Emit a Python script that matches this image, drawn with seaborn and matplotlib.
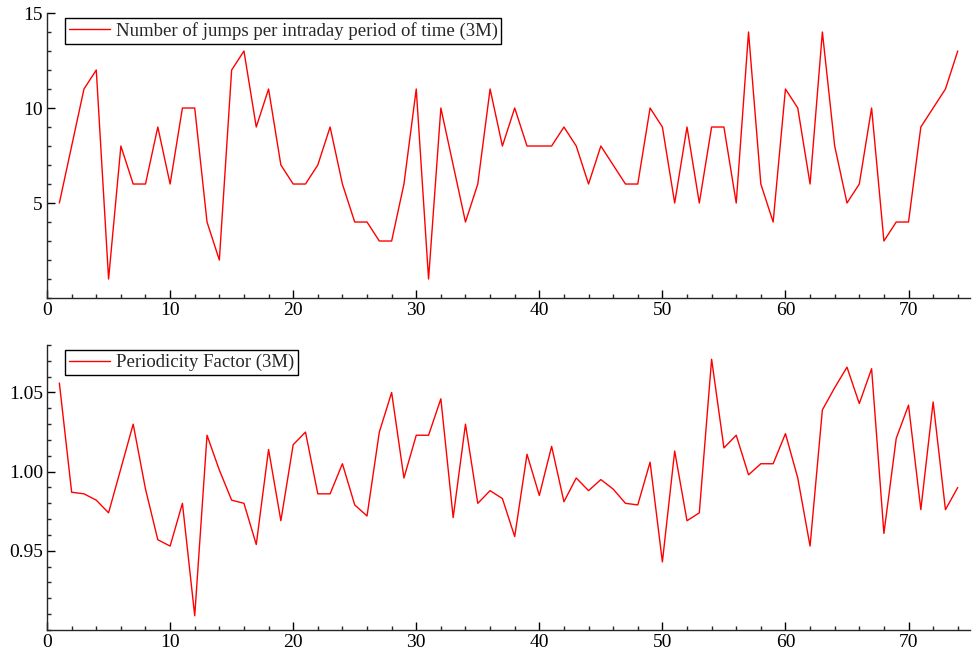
import numpy as np
import pandas as pd
import matplotlib
matplotlib.use("Agg")
import matplotlib.pyplot as plt
import seaborn as sns
from matplotlib.ticker import MultipleLocator

periods = list(range(1, 75))
jumps = [5, 8, 11, 12, 1, 8, 6, 6, 9, 6,
         10, 10, 4, 2, 12, 13, 9, 11, 7, 6,
         6, 7, 9, 6, 4, 4, 3, 3, 6, 11,
         1, 10, 7, 4, 6, 11, 8, 10, 8, 8,
         8, 9, 8, 6, 8, 7, 6, 6, 10, 9,
         5, 9, 5, 9, 9, 5, 14, 6, 4, 11,
         10, 6, 14, 8, 5, 6, 10, 3, 4, 4,
         9, 10, 11, 13]
periodicity = [1.056, 0.987, 0.986, 0.982, 0.974, 1.002, 1.030, 0.989, 0.957, 0.953,
               0.980, 0.909, 1.023, 1.001, 0.982, 0.980, 0.954, 1.014, 0.969, 1.017,
               1.025, 0.986, 0.986, 1.005, 0.979, 0.972, 1.025, 1.050, 0.996, 1.023,
               1.023, 1.046, 0.971, 1.030, 0.980, 0.988, 0.983, 0.959, 1.011, 0.985,
               1.016, 0.981, 0.996, 0.988, 0.995, 0.989, 0.980, 0.979, 1.006, 0.943,
               1.013, 0.969, 0.974, 1.071, 1.015, 1.023, 0.998, 1.005, 1.005, 1.024,
               0.996, 0.953, 1.039, 1.053, 1.066, 1.043, 1.065, 0.961, 1.021, 1.042,
               0.976, 1.044, 0.976, 0.990]

label_top = "Number of jumps per intraday period of time (3M)"
label_bot = "Periodicity Factor (3M)"

df_top = pd.DataFrame({"period": periods, "value": jumps})
df_bot = pd.DataFrame({"period": periods, "value": periodicity})

sns.set_style("ticks")
plt.rcParams["font.family"] = ["Liberation Serif", "DejaVu Serif"]

fig = plt.figure(figsize=(9.72, 6.54), dpi=100)
ax1 = fig.add_axes([0.0484, 0.5443, 0.9496, 0.4358])
ax2 = fig.add_axes([0.0484, 0.0367, 0.9496, 0.4358])

sns.lineplot(data=df_top, x="period", y="value", ax=ax1, color="#ff0000",
             linewidth=1.0, label=label_top)
sns.lineplot(data=df_bot, x="period", y="value", ax=ax2, color="#ff0000",
             linewidth=1.0, label=label_bot)

ax1.set_ylim(0, 15)
ax2.set_ylim(0.90, 1.08)
for ax in (ax1, ax2):
    ax.set_xlim(0, 75)
    ax.set_xlabel("")
    ax.set_ylabel("")
    ax.spines["top"].set_visible(False)
    ax.spines["right"].set_visible(False)
    ax.spines["left"].set_linewidth(1.0)
    ax.spines["bottom"].set_linewidth(1.0)
    ax.xaxis.set_major_locator(MultipleLocator(10))
    ax.xaxis.set_minor_locator(MultipleLocator(2))
    ax.tick_params(which="major", direction="in", length=5.5, width=1.0,
                   labelsize=14, pad=3, colors="black")
    ax.tick_params(which="minor", direction="in", length=3.2, width=1.0)
    leg = ax.legend(loc="upper left", bbox_to_anchor=(0.0195, 0.982),
                    borderaxespad=0, fontsize=13.5, frameon=True,
                    fancybox=False, framealpha=1, edgecolor="black",
                    handlelength=2.2, handletextpad=0.3, borderpad=0.2)
    leg.get_frame().set_linewidth(1.0)

ax1.yaxis.set_major_locator(MultipleLocator(5))
ax1.yaxis.set_minor_locator(MultipleLocator(1))
ax1.set_yticks([5, 10, 15])
ax2.set_yticks([0.95, 1.00, 1.05])
ax2.set_yticklabels(["0.95", "1.00", "1.05"])
ax2.yaxis.set_minor_locator(MultipleLocator(0.01))

fig.savefig("out.png", dpi=100)
